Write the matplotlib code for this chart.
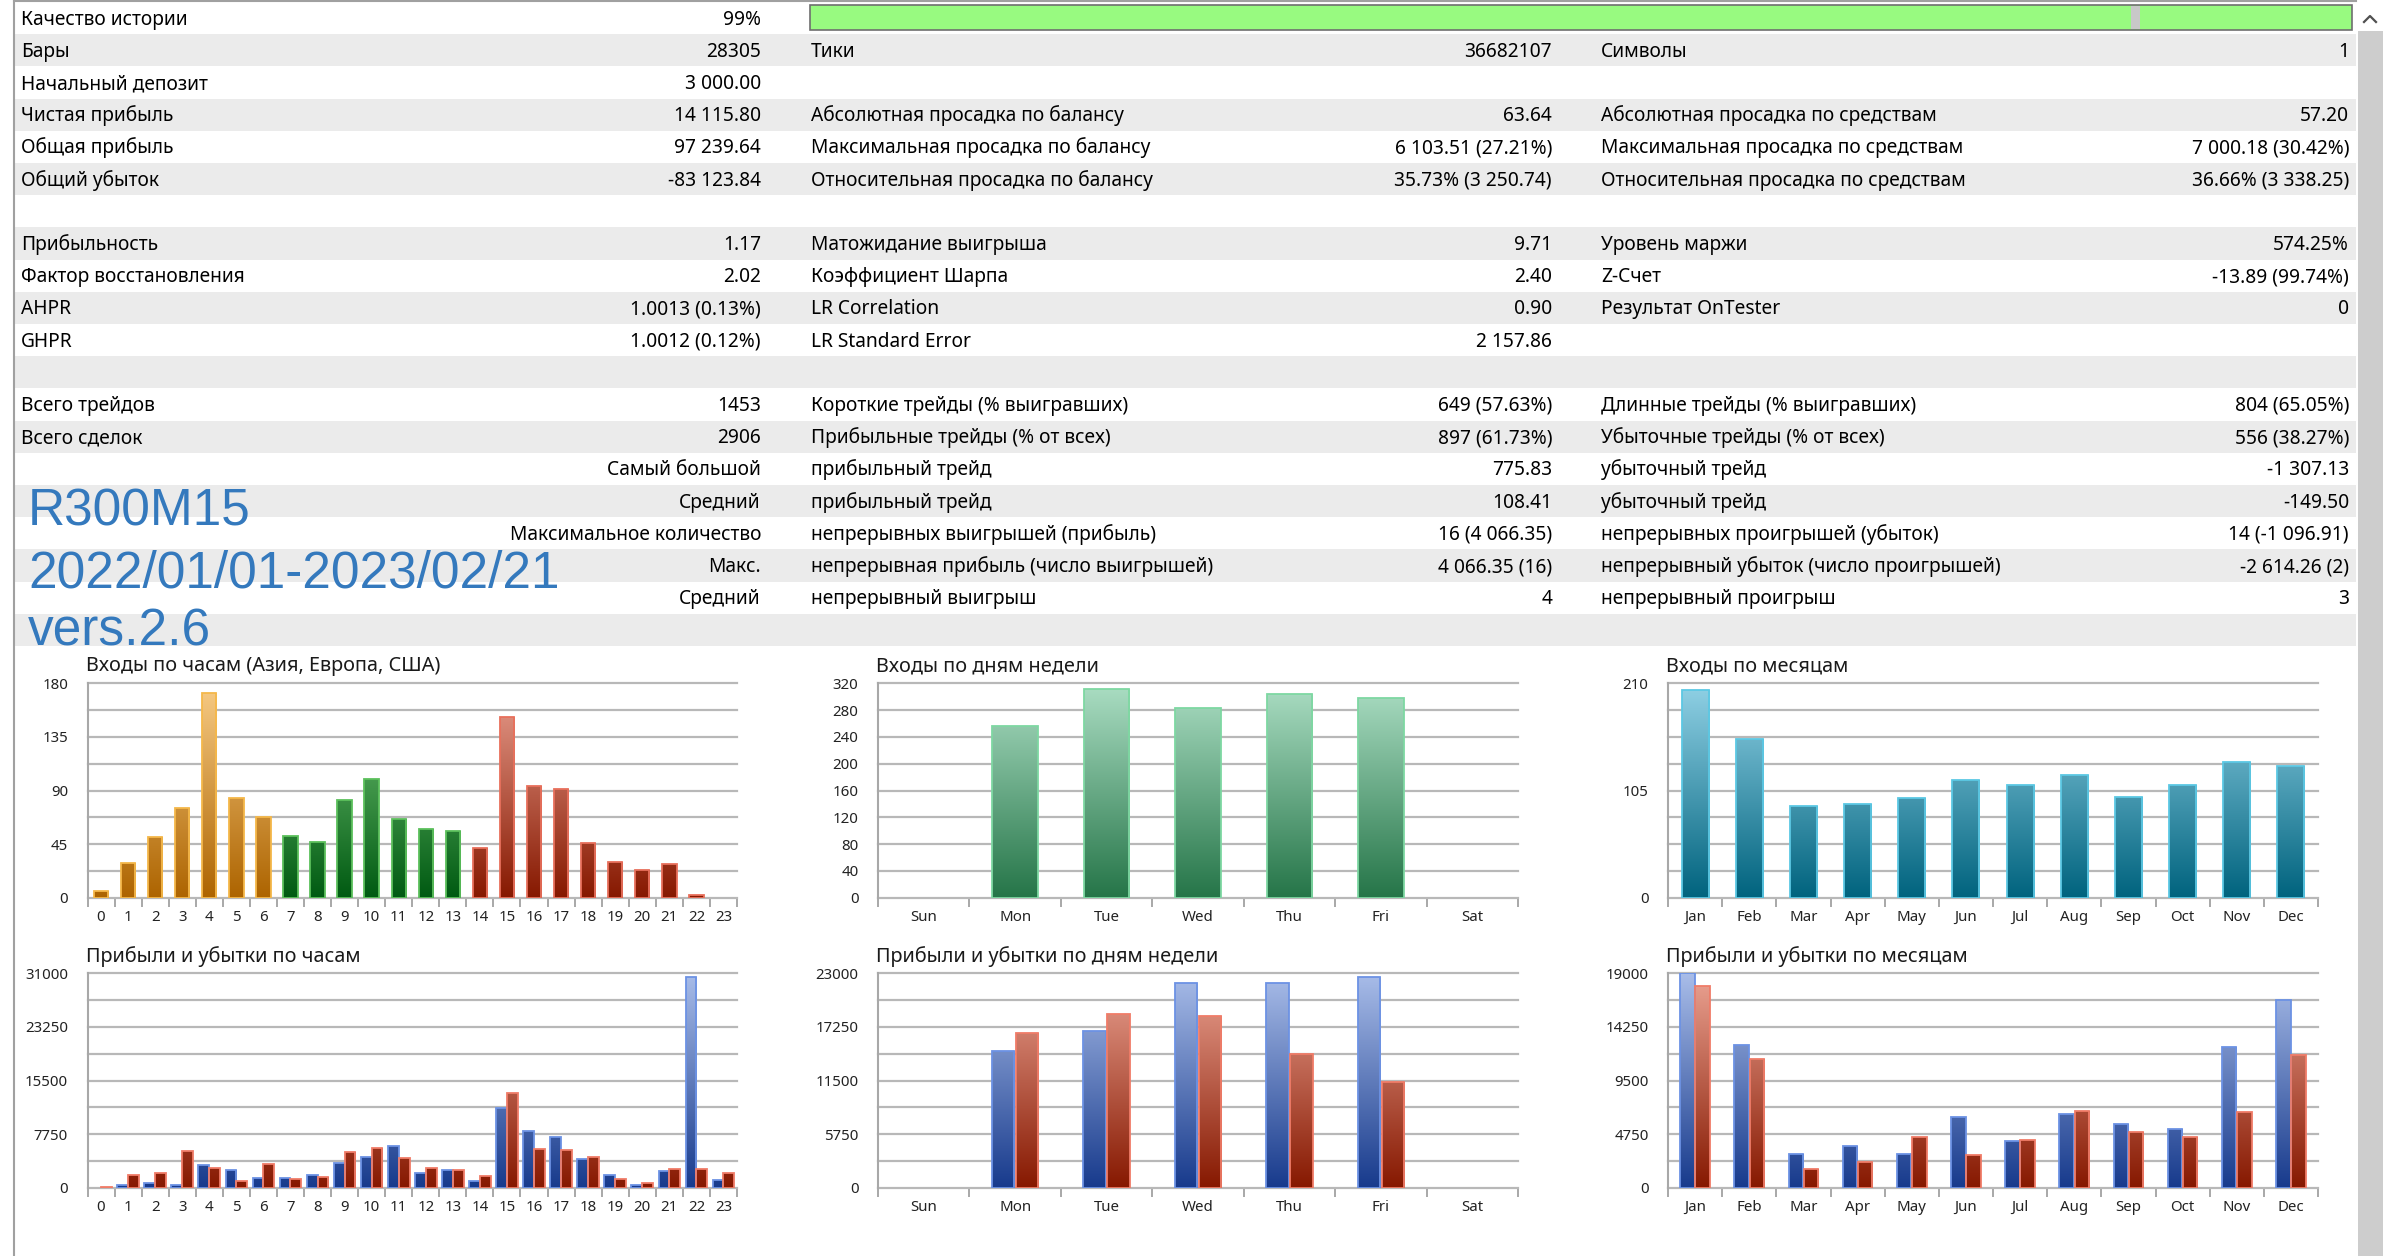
import numpy as np
import matplotlib.pyplot as plt
from matplotlib.patches import Rectangle
from matplotlib.colors import LinearSegmentedColormap

W, H = 2385, 1256

# -----------------------
# Report table (20 rows, three column pairs)
# -----------------------
col1_labels = ["Качество истории", "Бары", "Начальный депозит", "Чистая прибыль", "Общая прибыль",
               "Общий убыток", "", "Прибыльность", "Фактор восстановления", "AHPR", "GHPR", "",
               "Всего трейдов", "Всего сделок", "", "", "", "", "", ""]
col1_values = ["99%", "28305", "3 000.00", "14 115.80", "97 239.64", "-83 123.84", "",
               "1.17", "2.02", "1.0013 (0.13%)", "1.0012 (0.12%)", "",
               "1453", "2906", "Самый большой", "Средний", "Максимальное количество", "Макс.",
               "Средний", ""]
col2_labels = ["", "Тики", "", "Абсолютная просадка по балансу", "Максимальная просадка по балансу",
               "Относительная просадка по балансу", "", "Матожидание выигрыша", "Коэффициент Шарпа",
               "LR Correlation", "LR Standard Error", "", "Короткие трейды (% выигравших)",
               "Прибыльные трейды (% от всех)", "прибыльный трейд", "прибыльный трейд",
               "непрерывных выигрышей (прибыль)", "непрерывная прибыль (число выигрышей)",
               "непрерывный выигрыш", ""]
col2_values = ["", "36682107", "", "63.64", "6 103.51 (27.21%)", "35.73% (3 250.74)", "",
               "9.71", "2.40", "0.90", "2 157.86", "", "649 (57.63%)", "897 (61.73%)",
               "775.83", "108.41", "16 (4 066.35)", "4 066.35 (16)", "4", ""]
col3_labels = ["", "Символы", "", "Абсолютная просадка по средствам",
               "Максимальная просадка по средствам", "Относительная просадка по средствам", "",
               "Уровень маржи", "Z-Счет", "Результат OnTester", "", "",
               "Длинные трейды (% выигравших)", "Убыточные трейды (% от всех)", "убыточный трейд",
               "убыточный трейд", "непрерывных проигрышей (убыток)",
               "непрерывный убыток (число проигрышей)", "непрерывный проигрыш", ""]
col3_values = ["", "1", "", "57.20", "7 000.18 (30.42%)", "36.66% (3 338.25)", "",
               "574.25%", "-13.89 (99.74%)", "0", "", "", "804 (65.05%)", "556 (38.27%)",
               "-1 307.13", "-149.50", "14 (-1 096.91)", "-2 614.26 (2)", "3", ""]

overlay_lines = ["R300M15", "2022/01/01-2023/02/21", "vers.2.6"]

# -----------------------
# Chart data
# -----------------------
hours = [str(h) for h in range(24)]
entries_by_hour = [6, 29, 51, 75, 172, 84, 68, 52, 47, 82, 100, 66, 58, 56, 42, 152, 94, 91,
                   46, 30, 23, 28, 2, 0]
days = ["Sun", "Mon", "Tue", "Wed", "Thu", "Fri", "Sat"]
entries_by_day = [0, 257, 311, 283, 304, 298, 0]
months = ["Jan", "Feb", "Mar", "Apr", "May", "Jun", "Jul", "Aug", "Sep", "Oct", "Nov", "Dec"]
entries_by_month = [203, 155, 90, 92, 98, 115, 110, 120, 99, 110, 133, 129]

profit_by_hour = [0, 340, 630, 340, 3230, 2600, 1350, 1450, 1780, 3520, 4480, 6070, 2070, 2510,
                  960, 11570, 8190, 7280, 4190, 1780, 390, 2410, 30460, 1110]
loss_by_hour = [150, 1830, 2070, 5300, 2800, 1010, 3420, 1300, 1490, 5160, 5780, 4240, 2840, 2510,
                1740, 13690, 5640, 5490, 4480, 1200, 670, 2700, 2750, 2120]
profit_by_day = [0, 14700, 16780, 21960, 21960, 22570, 0]
loss_by_day = [0, 16560, 18670, 18420, 14340, 11300, 0]
profit_by_month = [18990, 12620, 2960, 3690, 2990, 6240, 4170, 6560, 5680, 5170, 12500, 16670]
loss_by_month = [17910, 11410, 1630, 2250, 4520, 2930, 4260, 6770, 4970, 4520, 6680, 11760]

FONT = ["Noto Sans", "DejaVu Sans"]
plt.rcParams["font.family"] = FONT

fig = plt.figure(figsize=(W / 100, H / 100), dpi=100)
fig.patch.set_facecolor("white")

# background axes in pixel coordinates
bg = fig.add_axes([0, 0, 1, 1])
bg.set_xlim(0, W)
bg.set_ylim(H, 0)
bg.axis("off")

ROW0, ROWH = 2.0, 32.2
X1L, X1R = 21, 761
X2L, X2R = 811, 1552
X3L, X3R = 1601, 2349
TABLE_R = 2356
FS = 13.8

for i in range(len(col1_labels)):
    top = ROW0 + ROWH * i
    if i % 2 == 1:
        bg.add_patch(Rectangle((15, top), TABLE_R - 15, ROWH, color="#ebebeb", lw=0))
    yb = top + ROWH / 2 + 6.5
    for x, txt, ha in ((X1L, col1_labels[i], "left"), (X1R, col1_values[i], "right"),
                       (X2L, col2_labels[i], "left"), (X2R, col2_values[i], "right"),
                       (X3L, col3_labels[i], "left"), (X3R, col3_values[i], "right")):
        if txt:
            bg.text(x, yb, txt, ha=ha, va="baseline", fontsize=FS, color="black")

# history quality bar
bg.add_patch(Rectangle((810, 5), 2352 - 810, 25, facecolor="#98fa80", edgecolor="#6e6e6e", lw=1.2))
bg.add_patch(Rectangle((2131, 6), 9, 23, facecolor="#c8c8c8", lw=0))

# borders and scrollbar
bg.plot([14, 14], [0, H], color="#a0a0a0", lw=1.5)
bg.plot([14, TABLE_R], [1, 1], color="#a0a0a0", lw=1.5)
bg.add_patch(Rectangle((2358, 31), 25, H - 31, color="#cdcdcd", lw=0))
bg.plot([2364, 2370, 2376], [22, 16, 22], color="#505050", lw=1.6)

# blue overlay text
for txt, yb in zip(overlay_lines, [526, 587, 645]):
    bg.text(28, yb, txt, ha="left", va="baseline", fontsize=37, color="#3479bd",
            family=["Liberation Sans", "DejaVu Sans"])


def gradient_fill(ax, bars, top_c, bot_c, edge_c, ymax):
    cmap = LinearSegmentedColormap.from_list("g", [bot_c, top_c])
    grad = np.linspace(0, 1, 256).reshape(-1, 1)
    for b in bars:
        if b.get_height() <= 0:
            continue
        b.set_facecolor("none")
        b.set_edgecolor(edge_c)
        b.set_linewidth(1.3)
        b.set_zorder(4)
        x0, w = b.get_x(), b.get_width()
        im = ax.imshow(grad, cmap=cmap, origin="lower", extent=[x0, x0 + w, 0, ymax],
                       aspect="auto", zorder=3, interpolation="bilinear")
        im.set_clip_path(b)


def make_axes(x0, x1, y0, y1, title, labels, ymax, major, minor):
    ax = fig.add_axes([x0 / W, 1 - y1 / H, (x1 - x0) / W, (y1 - y0) / H])
    n = len(labels)
    ax.set_xlim(-0.5, n - 0.5)
    ax.set_ylim(0, ymax)
    for s in ("top", "right", "bottom"):
        ax.spines[s].set_visible(False)
    ax.spines["left"].set_color("#a8a8a8")
    ax.spines["left"].set_linewidth(1.5)
    ax.set_yticks(np.arange(0, ymax + 1, major))
    ax.set_yticklabels([f"{v:g}" for v in np.arange(0, ymax + 1, major)])
    if minor:
        ax.set_yticks(np.arange(0, ymax + 1, minor), minor=True)
    ax.grid(axis="y", which="both", color="#b8b8b8", lw=1.6)
    for t in ax.yaxis.get_major_ticks() + ax.yaxis.get_minor_ticks():
        t.gridline.set_clip_on(False)
    ax.set_axisbelow(True)
    ax.tick_params(axis="y", which="both", length=0, pad=14, labelsize=10.8, labelcolor="#222222")
    ax.set_xticks(range(n))
    ax.set_xticklabels(labels)
    ax.set_xticks(np.arange(-0.5, n), minor=True)
    ax.tick_params(axis="x", which="major", length=0, pad=9, labelsize=10.8, labelcolor="#222222")
    ax.tick_params(axis="x", which="minor", length=6.5, width=1.4, color="#a8a8a8", direction="out")
    ax.set_facecolor("none")
    fig.text((x0 - 2) / W, 1 - (y0 - 17) / H, title, ha="left", va="center", fontsize=14.3,
             color="#1a1a1a")
    return ax


TOP1, BOT1 = 683.3, 897.7
TOP2, BOT2 = 973.3, 1187.7
C1 = (87.5, 737)
C2 = (878, 1518)
C3 = (1668, 2318)

# entries by hour
ax = make_axes(*C1, TOP1, BOT1, "Входы по часам (Азия, Европа, США)", hours, 180, 45, 22.5)
x = np.arange(24)
bars = ax.bar(x, entries_by_hour, width=0.53)
gradient_fill(ax, bars[:7], "#f8cc86", "#ad6400", "#f5b84a", 180)
gradient_fill(ax, bars[7:14], "#7ccc7c", "#005a12", "#5cc05c", 180)
gradient_fill(ax, bars[14:], "#eaa090", "#861800", "#e8705c", 180)
ax.set_xlim(-0.5, 23.5); ax.set_ylim(0, 180)

# entries by day
ax = make_axes(*C2, TOP1, BOT1, "Входы по дням недели", days, 320, 40, None)
bars = ax.bar(np.arange(7), entries_by_day, width=0.5)
gradient_fill(ax, bars, "#acdec4", "#257548", "#7ed8a2", 320)
ax.set_xlim(-0.5, 6.5); ax.set_ylim(0, 320)

# entries by month
ax = make_axes(*C3, TOP1, BOT1, "Входы по месяцам", months, 210, 105, 26.25)
bars = ax.bar(np.arange(12), entries_by_month, width=0.5)
gradient_fill(ax, bars, "#92d2e6", "#00637e", "#5cc8e4", 210)
ax.set_xlim(-0.5, 11.5); ax.set_ylim(0, 210)

BLUE = ("#a9bde9", "#173a8c", "#6c92e4")
RED = ("#eca494", "#861800", "#f07c68")


def paired(ax, n, prof, loss, w, off, ymax):
    pos = np.arange(n)
    b1 = ax.bar(pos - off, prof, width=w)
    b2 = ax.bar(pos + off, loss, width=w)
    gradient_fill(ax, b1, *BLUE, ymax)
    gradient_fill(ax, b2, *RED, ymax)
    ax.set_xlim(-0.5, n - 0.5); ax.set_ylim(0, ymax)


ax = make_axes(*C1, TOP2, BOT2, "Прибыли и убытки по часам", hours, 31000, 7750, 3875)
paired(ax, 24, profit_by_hour, loss_by_hour, 0.4, 0.2, 31000)

ax = make_axes(*C2, TOP2, BOT2, "Прибыли и убытки по дням недели", days, 23000, 5750, 2875)
paired(ax, 7, profit_by_day, loss_by_day, 0.245, 0.13, 23000)

ax = make_axes(*C3, TOP2, BOT2, "Прибыли и убытки по месяцам", months, 19000, 4750, 2375)
paired(ax, 12, profit_by_month, loss_by_month, 0.27, 0.14, 19000)

fig.savefig("out.png", dpi=100)
